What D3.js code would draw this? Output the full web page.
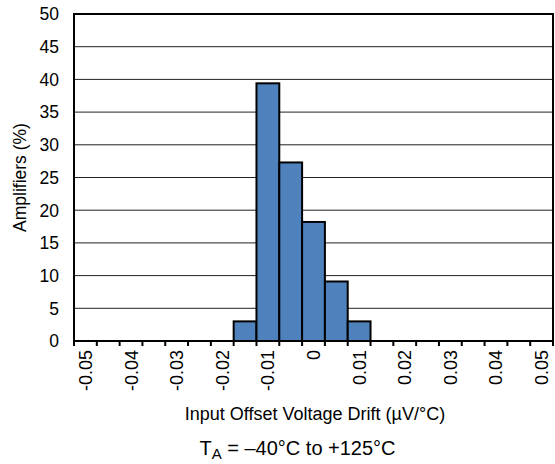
<!DOCTYPE html>
<html><head><meta charset="utf-8">
<script src="https://cdn.jsdelivr.net/npm/d3@7"></script>
<style>body{margin:0;background:#fff}svg{display:block}text{font-family:"Liberation Sans",Arial,sans-serif;fill:#000}</style>
</head><body>
<script>
const categories = ["-0.05","-0.045","-0.04","-0.035","-0.03","-0.025","-0.02","-0.015","-0.01","-0.005","0","0.005","0.01","0.015","0.02","0.025","0.03","0.035","0.04","0.045","0.05"];
const values = [0,0,0,0,0,0,0,3,39.4,27.3,18.2,9.1,3,0,0,0,0,0,0,0,0];
const tickLabels = ["-0.05","-0.04","-0.03","-0.02","-0.01","0","0.01","0.02","0.03","0.04","0.05"];
const yTicks = [0,5,10,15,20,25,30,35,40,45,50];

const W=555,H=464, L=74, R=553, T=14, B=341;
const svg=d3.select("body").append("svg").attr("width",W).attr("height",H);
const x=d3.scaleBand().domain(categories).range([L,R]).padding(0);
const y=d3.scaleLinear().domain([0,50]).range([B,T]);

// gridlines
svg.append("g").selectAll("line").data(yTicks.filter(d=>d>0&&d<50)).join("line")
 .attr("x1",L).attr("x2",R).attr("y1",d=>y(d)).attr("y2",d=>y(d))
 .attr("stroke","#222").attr("stroke-width",1);

// bars
svg.append("g").selectAll("rect").data(categories.map((c,i)=>({c,v:values[i]})).filter(d=>d.v>0)).join("rect")
 .attr("x",d=>x(d.c)).attr("width",x.bandwidth()).attr("y",d=>y(d.v)).attr("height",d=>B-y(d.v))
 .attr("fill","#4f81bd").attr("stroke","#000").attr("stroke-width",2);

// frame
svg.append("rect").attr("x",L).attr("y",T).attr("width",R-L).attr("height",B-T)
 .attr("fill","none").attr("stroke","#000").attr("stroke-width",2);

// x tick marks at category boundaries
const bounds=categories.map(c=>x(c)).concat([R]);
svg.append("g").selectAll("line").data(bounds).join("line")
 .attr("x1",d=>d).attr("x2",d=>d).attr("y1",B).attr("y2",B+5)
 .attr("stroke","#000").attr("stroke-width",2);

// y labels
svg.append("g").selectAll("text").data(yTicks).join("text")
 .attr("x",59).attr("y",d=>y(d)).attr("dy","0.36em").attr("text-anchor","end")
 .attr("font-size",17.5).text(d=>d);

// x labels
svg.append("g").selectAll("text").data(tickLabels).join("text")
 .attr("transform",d=>`translate(${x(d)+x.bandwidth()/2},350) rotate(-90)`)
 .attr("dy","0.36em").attr("text-anchor","end").attr("font-size",18).text(d=>d);

// axis titles
svg.append("text").attr("transform","translate(26,177.5) rotate(-90)").attr("text-anchor","middle")
 .attr("font-size",17.5).text("Amplifiers (%)");
svg.append("text").attr("x",315).attr("y",420).attr("text-anchor","middle")
 .attr("font-size",18).text("Input Offset Voltage Drift (µV/°C)");
const ta=svg.append("text").attr("x",297.5).attr("y",455).attr("text-anchor","middle").attr("font-size",20);
ta.append("tspan").text("T");
ta.append("tspan").attr("font-size",15).attr("dy",4).text("A");
ta.append("tspan").attr("dy",-4).text(" = \u201340°C to +125°C");
</script>
</body></html>
